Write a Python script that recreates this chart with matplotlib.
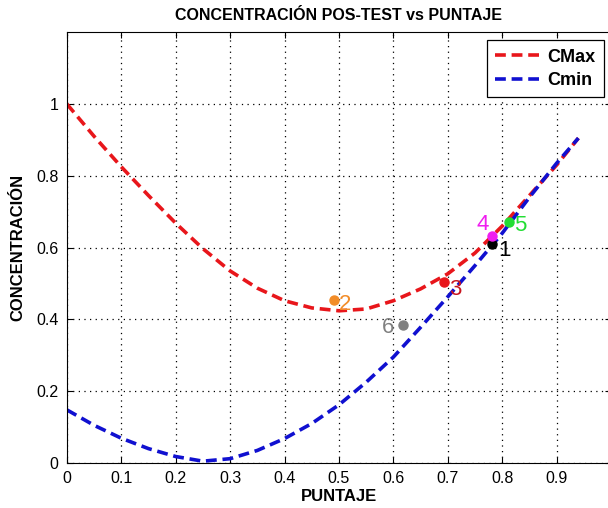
import numpy as np
import matplotlib
matplotlib.use("Agg")
import matplotlib.pyplot as plt

plt.rcParams['font.family'] = ['Liberation Sans', 'DejaVu Sans']

# Curves
cmax_x = [0.0, 0.05, 0.1, 0.15, 0.2, 0.25, 0.3, 0.35, 0.4, 0.45, 0.5, 0.55, 0.6,
          0.65, 0.7, 0.75, 0.8, 0.85, 0.9, 0.94]
cmax_y = [1.0, 0.91, 0.825, 0.745, 0.668, 0.597, 0.535, 0.487, 0.452, 0.432, 0.424,
          0.429, 0.452, 0.485, 0.527, 0.585, 0.66, 0.745, 0.83, 0.905]

cmin_x = [0.0, 0.05, 0.1, 0.15, 0.2, 0.25, 0.3, 0.35, 0.4, 0.45, 0.5, 0.55, 0.6,
          0.65, 0.7, 0.75, 0.8, 0.85, 0.9, 0.94]
cmin_y = [0.148, 0.105, 0.069, 0.04, 0.018, 0.005, 0.012, 0.035, 0.068, 0.11, 0.162,
          0.225, 0.295, 0.378, 0.463, 0.55, 0.64, 0.74, 0.835, 0.905]

# Students
pt_x = [0.782, 0.49, 0.693, 0.781, 0.812, 0.618]
pt_y = [0.610, 0.454, 0.503, 0.633, 0.670, 0.384]
pt_lbl = ['1', '2', '3', '4', '5', '6']
pt_col = ['black', '#f28c28', '#e8161b', '#f01cf0', '#22dd33', 'gray']
lbl_col = ['black', '#f28c28', '#c8141e', '#f01cf0', '#22dd33', 'gray']

fig = plt.figure(figsize=(6.08, 5.08), dpi=100)
ax = fig.add_axes([0.110, 0.0886, 0.895, 0.848])

ax.plot(cmax_x, cmax_y, '--', color='#e8161b', linewidth=2.6, dashes=(3, 1.6), label='CMax')
ax.plot(cmin_x, cmin_y, '--', color='#1010d0', linewidth=2.6, dashes=(3, 1.6), label='Cmin')

offsets = {'1': (4, -5), '2': (4, -3), '3': (4, -5), '4': (-11, 8), '5': (4, -2), '6': (-15, -2)}
for x, y, t, c, lc in zip(pt_x, pt_y, pt_lbl, pt_col, lbl_col):
    ax.plot(x, y, 'o', color=c, markersize=6.5)
    ax.annotate(t, (x, y), xytext=offsets[t], textcoords='offset points',
                color=lc, fontsize=16, va='center')

ax.set_xlim(0, 1)
ax.set_ylim(0, 1.2)
ax.set_xticks(np.arange(0, 1.0, 0.1))
ax.set_xticklabels(['0', '0.1', '0.2', '0.3', '0.4', '0.5', '0.6', '0.7', '0.8', '0.9'])
ax.set_yticks([0, 0.2, 0.4, 0.6, 0.8, 1.0])
ax.set_yticklabels(['0', '0.2', '0.4', '0.6', '0.8', '1'])
ax.tick_params(direction='in', length=4, labelsize=11.5, top=True, right=True, pad=6)
ax.grid(True, linestyle=(0, (1, 3.5)), color='black', linewidth=0.9)

ax.set_title('CONCENTRACIÓN POS-TEST vs PUNTAJE', fontweight='bold', fontsize=11.5, pad=9)
ax.set_xlabel('PUNTAJE', fontweight='bold', fontsize=12, labelpad=2)
ax.set_ylabel('CONCENTRACIÓN', fontweight='bold', fontsize=12, labelpad=8)

leg = ax.legend(loc='upper right', bbox_to_anchor=(0.987, 0.981), borderaxespad=0,
                fancybox=False, edgecolor='black', framealpha=1,
                prop={'weight': 'bold', 'size': 13},
                handlelength=2.4, borderpad=0.45, labelspacing=0.35, handletextpad=0.5)
leg.get_frame().set_linewidth(0.9)

fig.savefig('out.png', dpi=100)
